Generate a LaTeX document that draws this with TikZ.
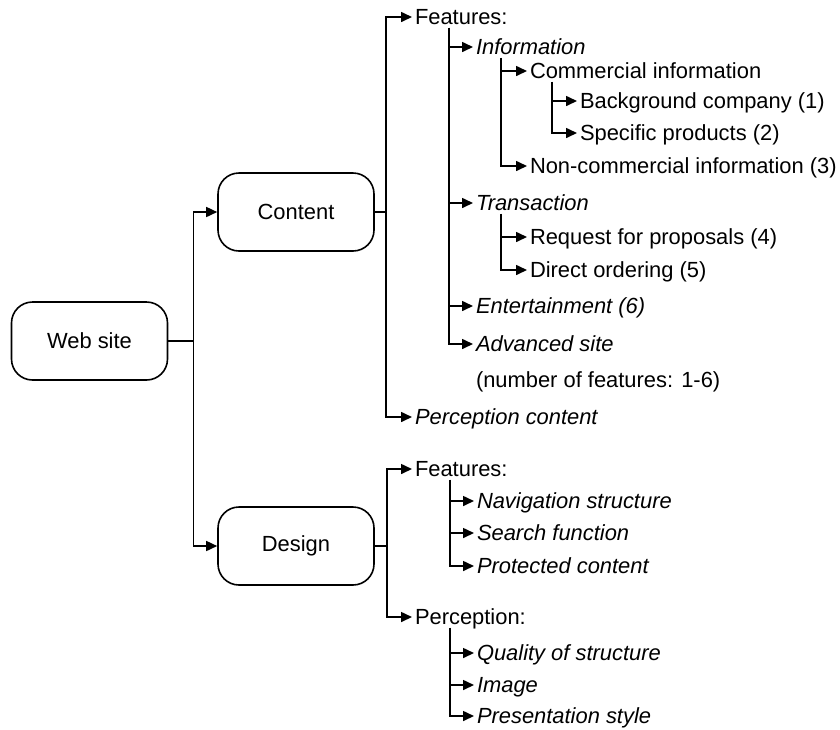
\documentclass[tikz,border=0pt]{standalone}
\usepackage{fontspec}
\setmainfont{Liberation Sans}
\usetikzlibrary{arrows.meta}
\begin{document}
\begin{tikzpicture}[x=1pt,y=-1pt,
  every node/.style={font=\fontsize{21.9}{26}\selectfont},
  box/.style={draw,line width=1.6pt,rounded corners=21pt,minimum width=156pt,minimum height=78pt,inner sep=0pt},
  lbl/.style={anchor=west,inner sep=3pt,outer sep=0pt,text height=15.7pt,text depth=0pt},
  itl/.style={lbl,font=\fontsize{21.9}{26}\selectfont\itshape},
  arr/.style={line width=1.6pt,-{Triangle[length=11pt,width=10pt]}},
  ln/.style={line width=1.6pt}]
\useasboundingbox (0,0) rectangle (840,729);
% boxes
\node[box] (web) at (89.5,341) {Web site};
\node[box] (content) at (296,212) {Content};
\node[box] (design) at (296,546) {Design};
% labels
\node[lbl] (feat1) at (412,17) {Features:};
\node[itl] (info) at (473,47) {Information};
\node[lbl] (comm) at (527,71) {Commercial information};
\node[lbl] (bg) at (577,101) {Background company (1)};
\node[lbl] (spec) at (577,133) {Specific products (2)};
\node[lbl] (noncomm) at (527,166) {Non-commercial information (3)};
\node[itl] (trans) at (473,203) {Transaction};
\node[lbl] (req) at (527,237) {Request for proposals (4)};
\node[lbl] (direct) at (527,270) {Direct ordering (5)};
\node[itl] (ent) at (473,306) {Entertainment (6)};
\node[itl] (adv) at (473,344) {Advanced site};
\node[lbl] (num) at (473,380) {(number of features: 1-6)};
\node[itl] (percc) at (412,417) {Perception content};
\node[lbl] (feat2) at (412,469) {Features:};
\node[itl] (nav) at (474,501) {Navigation structure};
\node[itl] (search) at (474,533) {Search function};
\node[itl] (prot) at (474,566) {Protected content};
\node[lbl] (perc) at (412,617) {Perception:};
\node[itl] (qual) at (474,653) {Quality of structure};
\node[itl] (img) at (474,685) {Image};
\node[itl] (pres) at (474,716) {Presentation style};
% web site
\draw[arr] (web.east) -- ++(25,0) |- (content.west);
\draw[arr] (web.east) -- ++(25,0) |- (design.west);
% content
\draw[arr] (content.east) -- ++(11,0) |- (feat1.west);
\draw[arr] (content.east) -- ++(11,0) |- (percc.west);
\draw[arr] ([xshift=37pt]feat1.south west) |- (info.west);
\draw[arr] ([xshift=37pt]feat1.south west) |- (trans.west);
\draw[arr] ([xshift=37pt]feat1.south west) |- (ent.west);
\draw[arr] ([xshift=37pt]feat1.south west) |- (adv.west);
\draw[arr] ([xshift=28pt]info.south west) |- (comm.west);
\draw[arr] ([xshift=28pt]info.south west) |- (noncomm.west);
\draw[arr] ([xshift=25pt]comm.south west) |- (bg.west);
\draw[arr] ([xshift=25pt]comm.south west) |- (spec.west);
\draw[arr] ([xshift=28pt]trans.south west) |- (req.west);
\draw[arr] ([xshift=28pt]trans.south west) |- (direct.west);
% design
\draw[arr] (design.east) -- ++(12,0) |- (feat2.west);
\draw[arr] (design.east) -- ++(12,0) |- (perc.west);
\draw[arr] ([xshift=38pt]feat2.south west) |- (nav.west);
\draw[arr] ([xshift=38pt]feat2.south west) |- (search.west);
\draw[arr] ([xshift=38pt]feat2.south west) |- (prot.west);
\draw[arr] ([xshift=38pt]perc.south west) |- (qual.west);
\draw[arr] ([xshift=38pt]perc.south west) |- (img.west);
\draw[arr] ([xshift=38pt]perc.south west) |- (pres.west);
\end{tikzpicture}
\end{document}
